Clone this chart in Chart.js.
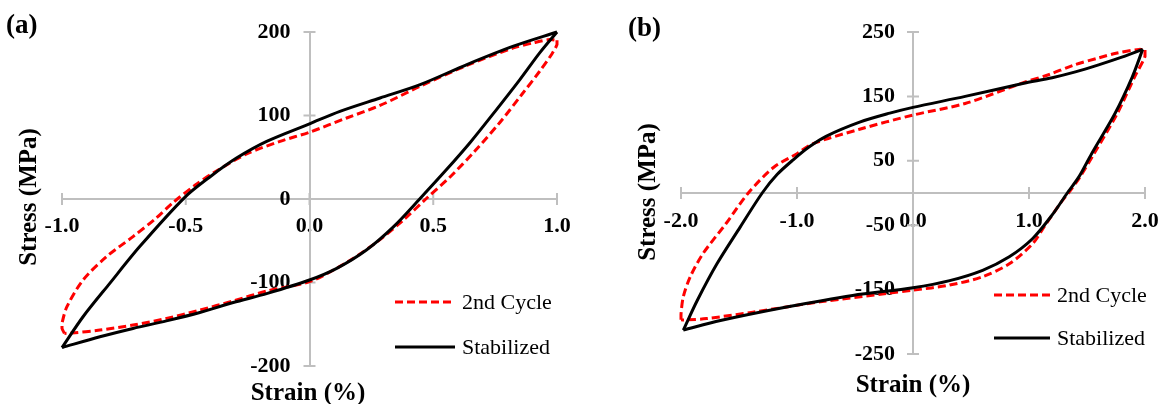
<!DOCTYPE html>
<html>
<head>
<meta charset="utf-8">
<script src="https://cdn.jsdelivr.net/npm/chart.js@4.4.1/dist/chart.umd.min.js"></script>
<style>
  html, body { margin:0; padding:0; background:#fff; }
  body { width:1163px; height:404px; position:relative; overflow:hidden; font-family:'Liberation Serif','Times New Roman',serif; color:#000; }
  .panel { position:absolute; top:0; height:404px; }
  .panel canvas { position:absolute; left:0; top:0; }
  .txt { position:absolute; white-space:nowrap; line-height:1; }
  .plabel { font-weight:bold; font-size:27px; transform:translateY(-50%); }
  .ytitle { font-weight:bold; font-size:25px; transform:translate(-50%,-50%) rotate(-90deg); }
  .xtitle { font-weight:bold; font-size:25px; transform:translate(-50%,-50%); }
  .leg { position:absolute; font-size:22px; line-height:1; white-space:nowrap; display:flex; align-items:center; transform:translateY(-50%); }
  .leg svg { display:block; margin-right:7px; }
</style>
</head>
<body>
<div class="panel" id="pa" style="left:0;width:580px;">
  <canvas id="ca" width="580" height="404"></canvas>
  <div class="txt plabel" style="left:6px;top:24px;">(a)</div>
  <div class="txt ytitle" style="left:27px;top:197px;">Stress (MPa)</div>
  <div class="txt xtitle" style="left:308px;top:391px;">Strain (%)</div>
  <div class="leg" style="left:395px;top:302px;"><svg width="60" height="6"><line x1="0" y1="3" x2="60" y2="3" stroke="#ff0000" stroke-width="3" stroke-dasharray="8,4"/></svg>2nd Cycle</div>
  <div class="leg" style="left:395px;top:347px;"><svg width="60" height="6"><line x1="0" y1="3" x2="60" y2="3" stroke="#000" stroke-width="3"/></svg>Stabilized</div>
</div>
<div class="panel" id="pb" style="left:580px;width:583px;">
  <canvas id="cb" width="583" height="404"></canvas>
  <div class="txt plabel" style="left:48px;top:27px;">(b)</div>
  <div class="txt ytitle" style="left:66px;top:192px;">Stress (MPa)</div>
  <div class="txt xtitle" style="left:333px;top:383px;">Strain (%)</div>
  <div class="leg" style="left:414px;top:295px;"><svg width="56" height="6"><line x1="0" y1="3" x2="56" y2="3" stroke="#ff0000" stroke-width="3" stroke-dasharray="8,4"/></svg>2nd Cycle</div>
  <div class="leg" style="left:414px;top:338px;"><svg width="56" height="6"><line x1="0" y1="3" x2="56" y2="3" stroke="#000" stroke-width="3"/></svg>Stabilized</div>
</div>
<script>
// ---------- Panel (a) data: [strain %, stress MPa] ----------
const aStabilizedLoading = [[-1.0,-178],[-0.915,-141],[-0.807,-101],[-0.686,-57],[-0.504,2],[-0.40,27],[-0.295,49],[-0.173,69],[0,90],[0.123,105],[0.285,121],[0.447,137],[0.636,161],[0.824,183],[1.0,200]];
const aStabilizedUnloading = [[1.0,200],[0.93,175],[0.85,143],[0.75,105],[0.65,68],[0.55,34],[0.445,0],[0.34,-33],[0.23,-61],[0.11,-83],[0,-97],[-0.17,-113],[-0.308,-124],[-0.443,-136],[-0.578,-146],[-0.713,-155],[-0.847,-165],[-1.0,-178]];
const aSecondLoading = [[-0.99,-161],[-1.0,-155],[-1.0,-149],[-0.98,-129],[-0.915,-97],[-0.82,-69],[-0.713,-45],[-0.62,-23],[-0.55,-4],[-0.46,17],[-0.39,31],[-0.254,54],[-0.119,69],[0,80],[0.15,97],[0.285,112],[0.447,135],[0.636,160],[0.824,181],[0.904,187],[0.97,191],[1.0,190]];
const aSecondUnloading = [[1.0,190],[1.0,185],[0.98,174],[0.93,153],[0.86,126],[0.77,92],[0.67,58],[0.57,27],[0.47,0],[0.38,-25],[0.27,-52],[0.15,-76],[0,-99],[-0.17,-110],[-0.308,-122],[-0.443,-133],[-0.578,-143],[-0.713,-151],[-0.847,-157],[-0.96,-160.5],[-0.99,-161]];
const aXTicks = [-1.0,-0.5,0,0.5,1.0];
const aXLabels = ['-1.0','-0.5','0.0','0.5','1.0'];
const aYTicks = [-200,-100,0,100,200];
const aYLabels = ['-200','-100','0','100','200'];

// ---------- Panel (b) data ----------
const bStabilizedLoading = [[-1.98,-213],[-1.86,-167],[-1.69,-110],[-1.49,-53],[-1.30,0],[-1.17,29],[-1.03,52],[-0.9,71],[-0.75,88],[-0.46,110],[-0.2,124],[0,133],[0.45,150],[0.946,170],[1.2,179],[1.4,188],[1.6,199],[1.8,211],[1.98,223]];
const bStabilizedUnloading = [[1.98,223],[1.89,180],[1.74,123],[1.54,61],[1.43,25],[1.33,0],[1.2,-34],[1.03,-71],[0.83,-99],[0.6,-120],[0.316,-136],[0,-147],[-0.52,-159],[-1.09,-177],[-1.66,-198],[-1.98,-213]];
const bSecondLoading = [[-2.0,-197],[-2.0,-188],[-1.98,-161],[-1.92,-130],[-1.81,-94],[-1.61,-47],[-1.42,0],[-1.2,40],[-1.0,61],[-0.87,76],[-0.46,99],[0,121],[0.45,139],[0.946,171],[1.175,184],[1.376,198],[1.605,210],[1.75,217],[1.95,223],[2.0,222]];
const bSecondUnloading = [[2.0,222],[2.0,212],[1.91,180],[1.76,123],[1.56,61],[1.44,25],[1.34,0],[1.27,-16],[1.14,-50],[1.03,-79],[0.83,-110],[0.6,-130],[0.316,-143],[0,-151],[-0.23,-156],[-0.80,-169],[-1.38,-185],[-1.78,-195],[-1.95,-197],[-2.0,-197]];
const bXTicks = [-2.0,-1.0,0,1.0,2.0];
const bXLabels = ['-2.0','-1.0','0.0','1.0','2.0'];
const bYTicks = [-250,-150,-50,50,150,250];
const bYLabels = ['-250','-150','-50','50','150','250'];

const seriesNames = ['Stabilized','2nd Cycle'];

const AXIS_GRAY = '#bfbfbf';
const tickFont = { family:"'Liberation Serif','Times New Roman',serif", size:22, weight:'bold' };

const crossTicks = {
  id:'crossTicks',
  beforeDatasetsDraw(chart) {
    const {ctx, scales:{x, y}} = chart;
    const x0 = x.getPixelForValue(0), y0 = y.getPixelForValue(0);
    ctx.save();
    ctx.strokeStyle = AXIS_GRAY; ctx.lineWidth = 2;
    ctx.beginPath();
    x.ticks.forEach(t => { const px = x.getPixelForValue(t.value); ctx.moveTo(px, y0-6); ctx.lineTo(px, y0+6); });
    y.ticks.forEach(t => { const py = y.getPixelForValue(t.value); ctx.moveTo(x0-6, py); ctx.lineTo(x0+6, py); });
    ctx.stroke();
    ctx.restore();
  }
};

const toXY = arr => arr.map(p => ({x:p[0], y:p[1]}));
const lineDs = (label, arr, color, dash) => ({
  label, data: toXY(arr), showLine:true, borderColor:color, backgroundColor:color,
  borderWidth:3, borderDash:dash, pointRadius:0, tension:0.3, fill:false, clip:false
});

function makeChart(id, d) {
  return new Chart(document.getElementById(id), {
    type:'scatter',
    data:{ datasets:[
      lineDs(seriesNames[0], d.stabLoad, '#000000', []),
      lineDs(seriesNames[0], d.stabUnload, '#000000', []),
      lineDs(seriesNames[1], d.secLoad, '#ff0000', [8,4]),
      lineDs(seriesNames[1], d.secUnload, '#ff0000', [8,4])
    ]},
    options:{
      responsive:false, animation:false, devicePixelRatio:1,
      layout:{ padding:d.pad },
      plugins:{ legend:{display:false}, tooltip:{enabled:false} },
      scales:{
        x:{
          type:'linear', position:{y:0}, min:d.xTicks[0], max:d.xTicks[d.xTicks.length-1],
          afterBuildTicks:s => { s.ticks = d.xTicks.map(v => ({value:v})); },
          grid:{display:false, drawTicks:true, tickLength:d.xPad},
          border:{display:true, color:AXIS_GRAY, width:2},
          ticks:{ autoSkip:false, maxRotation:0, padding:0, color:'#000', font:tickFont,
                  callback:(v,i) => d.xLabels[i] }
        },
        y:{
          type:'linear', position:'center', min:d.yTicks[0], max:d.yTicks[d.yTicks.length-1],
          afterBuildTicks:s => { s.ticks = d.yTicks.map(v => ({value:v})); },
          grid:{display:false, drawTicks:true, tickLength:d.yPad},
          border:{display:true, color:AXIS_GRAY, width:2},
          ticks:{ autoSkip:false, padding:0, color:'#000', font:tickFont,
                  callback:(v,i) => d.yLabels[i] }
        }
      }
    },
    plugins:[crossTicks]
  });
}

makeChart('ca', {
  stabLoad:aStabilizedLoading, stabUnload:aStabilizedUnloading,
  secLoad:aSecondLoading, secUnload:aSecondUnloading,
  xTicks:aXTicks, xLabels:aXLabels, yTicks:aYTicks, yLabels:aYLabels,
  pad:{left:62, right:23, top:32, bottom:38}, xPad:14, yPad:19
});
makeChart('cb', {
  stabLoad:bStabilizedLoading, stabUnload:bStabilizedUnloading,
  secLoad:bSecondLoading, secUnload:bSecondUnloading,
  xTicks:bXTicks, xLabels:bXLabels, yTicks:bYTicks, yLabels:bYLabels,
  pad:{left:101, right:18, top:32, bottom:50}, xPad:15, yPad:18
});
</script>
</body>
</html>
